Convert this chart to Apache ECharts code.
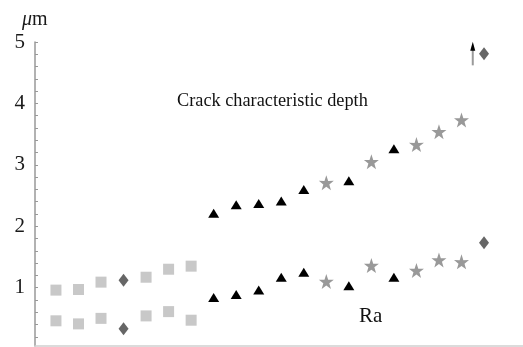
<!DOCTYPE html>
<html>
<head>
<meta charset="utf-8">
<script src="https://cdn.jsdelivr.net/npm/echarts@6/dist/echarts.min.js"></script>
<style>html,body{margin:0;padding:0;background:#fff}#c{width:523px;height:347px}</style>
</head>
<body>
<div id="c"></div>
<script>
// Position index (1-based) along the horizontal axis
const squareX = [1, 2, 3, 5, 6, 7];
const squareUpper = [0.96, 0.97, 1.09, 1.17, 1.30, 1.35];
const squareLower = [0.46, 0.41, 0.50, 0.54, 0.61, 0.47];

const diamondX = [4, 20];
const diamondUpper = [1.12, 4.81];
const diamondLower = [0.33, 1.73];

const triangleX = [8, 9, 10, 11, 12, 14, 16];
const triangleUpper = [2.21, 2.35, 2.37, 2.41, 2.60, 2.74, 3.26];
const triangleLower = [0.84, 0.89, 0.96, 1.17, 1.25, 1.03, 1.17];

const starX = [13, 15, 17, 18, 19];
const starUpper = [2.71, 3.05, 3.33, 3.54, 3.73];
const starLower = [1.10, 1.36, 1.28, 1.45, 1.42];

const arrowX = 19.5;
const arrowFrom = 4.62;
const arrowTo = 4.93;

const yTickLabels = [1, 2, 3, 4, 5];
const yMinorTicks = [0.2,0.4,0.6,0.8,1.0,1.2,1.4,1.6,1.8,2.0,2.2,2.4,2.6,2.8,3.0,3.2,3.4,3.6,3.8,4.0,4.2,4.4,4.6,4.8,5.0];

const annotationUpper = 'Crack characteristic depth';
const annotationLower = 'Ra';

function pairs(xs, ys) { return xs.map((x, i) => [x, ys[i]]); }

const starPath = 'path://M50,0 L61.8,35.1 L97.6,34.5 L69,56.1 L79.4,90.5 L50,70 L20.6,90.5 L31,56.1 L2.4,34.5 L38.2,35.1 Z';
const font = '"Liberation Serif", "DejaVu Serif", serif';

const chart = echarts.init(document.getElementById('c'), null, {renderer: 'canvas'});
const scatterBase = {type: 'scatter', animation: false, emphasis: {disabled: true}};

chart.setOption({
  animation: false,
  backgroundColor: '#ffffff',
  grid: {left: 35, right: 0, top: 42, bottom: 1, containLabel: false},
  title: {
    text: '{i|μ}m',
    left: 17, top: 5,
    textStyle: {
      fontFamily: font, fontSize: 20, color: '#1a1a1a', fontWeight: 'normal',
      rich: {i: {fontFamily: font, fontSize: 20, fontStyle: 'italic', color: '#1a1a1a'}}
    }
  },
  xAxis: {
    type: 'value', min: 0.07, max: 21.73,
    axisLine: {show: true, lineStyle: {color: '#cfcfcf', width: 1.5}},
    axisTick: {show: false}, axisLabel: {show: false}, splitLine: {show: false}
  },
  yAxis: {
    type: 'value', min: 0.05, max: 5,
    axisLine: {show: true, lineStyle: {color: '#999', width: 1.5}},
    axisTick: {show: true, inside: true, length: 3, customValues: yMinorTicks, lineStyle: {color: '#999'}},
    axisLabel: {customValues: yTickLabels, fontFamily: font, fontSize: 21, color: '#1a1a1a', margin: 10},
    splitLine: {show: false}
  },
  graphic: [
    {type: 'text', left: 177, top: 92, style: {text: annotationUpper, font: '18.3px ' + font, fill: '#111'}},
    {type: 'text', left: 359, top: 306, style: {text: annotationLower, font: '21px ' + font, fill: '#111'}}
  ],
  series: [
    Object.assign({}, scatterBase, {name: 'sq1', symbol: 'rect', symbolSize: 11, itemStyle: {color: '#c8c8c8', opacity: 1}, data: pairs(squareX, squareUpper)}),
    Object.assign({}, scatterBase, {name: 'sq2', symbol: 'rect', symbolSize: 11, itemStyle: {color: '#c8c8c8', opacity: 1}, data: pairs(squareX, squareLower)}),
    Object.assign({}, scatterBase, {name: 'di1', symbol: 'diamond', symbolSize: [10, 13], itemStyle: {color: '#666', opacity: 1}, data: pairs(diamondX, diamondUpper)}),
    Object.assign({}, scatterBase, {name: 'di2', symbol: 'diamond', symbolSize: [10, 13], itemStyle: {color: '#666', opacity: 1}, data: pairs(diamondX, diamondLower)}),
    Object.assign({}, scatterBase, {name: 'tr1', symbol: 'triangle', symbolSize: [11, 9], itemStyle: {color: '#000', opacity: 1}, data: pairs(triangleX, triangleUpper)}),
    Object.assign({}, scatterBase, {name: 'tr2', symbol: 'triangle', symbolSize: [11, 9], itemStyle: {color: '#000', opacity: 1}, data: pairs(triangleX, triangleLower)}),
    Object.assign({}, scatterBase, {name: 'st1', symbol: starPath, symbolSize: 15, itemStyle: {color: '#999', opacity: 1}, data: pairs(starX, starUpper)}),
    Object.assign({}, scatterBase, {name: 'st2', symbol: starPath, symbolSize: 15, itemStyle: {color: '#999', opacity: 1}, data: pairs(starX, starLower)}),
    {
      type: 'line', animation: false, silent: true,
      lineStyle: {color: '#9a9a9a', width: 2},
      itemStyle: {color: '#000', opacity: 1},
      showSymbol: true,
      data: [
        {value: [arrowX, arrowFrom], symbol: 'none'},
        {value: [arrowX, arrowTo], symbol: 'triangle', symbolSize: [5, 9]}
      ]
    }
  ]
});
</script>
</body>
</html>
